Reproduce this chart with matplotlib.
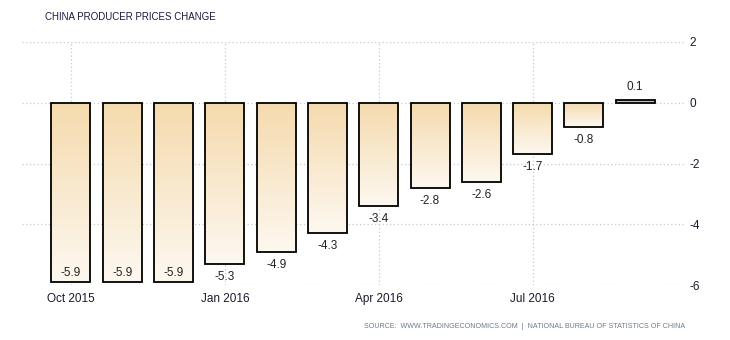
import matplotlib
matplotlib.use("Agg")
import matplotlib.pyplot as plt
import numpy as np
from matplotlib.colors import LinearSegmentedColormap

months = ["Oct 2015", "Nov 2015", "Dec 2015", "Jan 2016", "Feb 2016", "Mar 2016",
          "Apr 2016", "May 2016", "Jun 2016", "Jul 2016", "Aug 2016", "Sep 2016"]
values = [-5.9, -5.9, -5.9, -5.3, -4.9, -4.3, -3.4, -2.8, -2.6, -1.7, -0.8, 0.1]
tick_labels = ["Oct 2015", "Jan 2016", "Apr 2016", "Jul 2016"]
yticks = [-6, -4, -2, 0, 2]

plt.rcParams['font.family'] = ['Liberation Sans', 'DejaVu Sans']
plt.rcParams['axes.unicode_minus'] = False

fig = plt.figure(figsize=(7.3, 3.4), dpi=100)
ax = fig.add_axes([22/730, 1-285/340, (685-22)/730, (285-42)/340])

x = np.arange(len(values))
width = 0.76
cmap = LinearSegmentedColormap.from_list("g", ["#FDF8F0", "#F5DAAD"])
bars = ax.bar(x, values, width=width, facecolor="none", edgecolor="black", linewidth=1.3, zorder=3)
grad = np.linspace(0, 1, 256).reshape(-1, 1)
for b, v in zip(bars, values):
    x0 = b.get_x()
    if v < 0:
        im = ax.imshow(grad, extent=[x0, x0 + width, v, 0], origin="lower", cmap=cmap,
                       aspect="auto", zorder=2)
        im.set_clip_path(b)
    else:
        b.set_facecolor("#AFC3D3")

for xi, v in zip(x, values):
    if v < 0:
        y = v - 0.43
        if y < -5.8:
            y = v + 0.3
    else:
        y = v + 0.42
    ax.text(xi, y, f"{v:.1f}", ha="center", va="center", fontsize=8.5, color="#222222", zorder=4)

ax.set_xlim(-0.955, 11.97)
ax.set_ylim(-6, 2)
ax.set_yticks(yticks)
ax.yaxis.tick_right()
ax.set_xticks([months.index(t) for t in tick_labels])
ax.set_xticklabels(tick_labels)
ax.tick_params(axis="both", length=0, labelsize=8.5, colors="#1a1a2e")
ax.tick_params(axis="y", pad=3)
ax.tick_params(axis="x", pad=6)
ax.grid(True, linestyle=(0, (1, 2)), color="#c8c8c8", linewidth=0.9, zorder=0)
ax.set_axisbelow(True)
for s in ax.spines.values():
    s.set_visible(False)

fig.text(45/730, 1-17/340, "CHINA PRODUCER PRICES CHANGE", fontsize=7.0,
         color="#1a1a40", ha="left", va="center")
fig.text(685/730, 1-326/340,
         "SOURCE:  WWW.TRADINGECONOMICS.COM  |  NATIONAL BUREAU OF STATISTICS OF CHINA",
         fontsize=5.1, color="#6a7a90", ha="right", va="center")

fig.savefig("out.png", dpi=100)
